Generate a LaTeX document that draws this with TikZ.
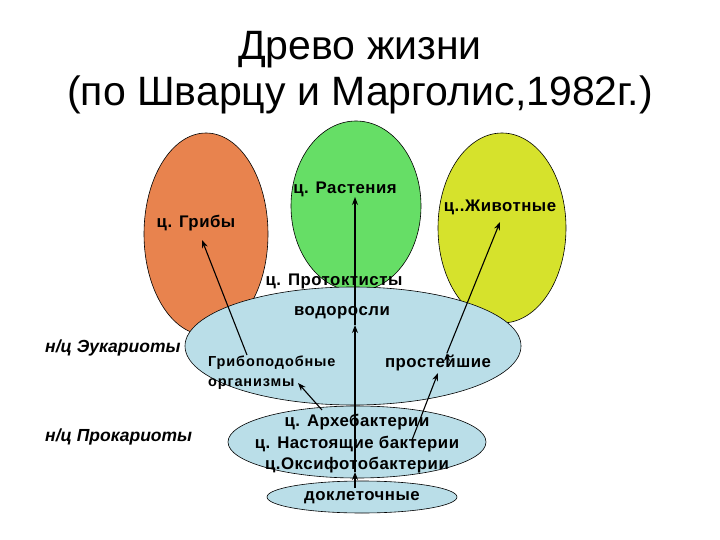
\documentclass[tikz,border=0pt]{standalone}
\usepackage{fontspec}
\setmainfont{Liberation Sans}
\usepackage{tikz}
\usetikzlibrary{arrows.meta}
\usetikzlibrary{positioning,shapes.geometric,calc}
\definecolor{orange1}{RGB}{232, 131, 78}
\definecolor{green1}{RGB}{102, 222, 102}
\definecolor{yellow1}{RGB}{214, 226, 44}
\definecolor{blue1}{RGB}{186, 222, 232}
\tikzstyle{kingdom} = [ellipse,draw=black,line width=0.6pt,inner sep=0pt]
\tikzstyle{label_big} = [font=\fontsize{16.8}{21.5}\selectfont\bfseries\addfontfeatures{LetterSpace=3},inner sep=0pt]
\tikzstyle{label_small} = [font=\fontsize{14.5}{20}\selectfont\bfseries\addfontfeatures{LetterSpace=6},inner sep=0pt]
\tikzstyle{label_rank} = [font=\fontsize{17.5}{20}\selectfont\bfseries\itshape,inner sep=0pt]
\tikzstyle{arrow_tree} = [-{Stealth[length=8pt,width=6pt]}, draw=black, line width=1.1pt]

\begin{document}
\begin{tikzpicture}[x=1pt,y=-1pt]
    \useasboundingbox (0,0) rectangle (720,540);

      % title
      \node[font=\fontsize{41}{46}\selectfont,align=center,inner sep=0pt] (title) at (360,73)
        {Древо жизни\\(по Шварцу и Марголис,1982г.)};

      % kingdoms
      \node[kingdom,fill=orange1,minimum width=124pt,minimum height=202pt] (fungi)   at (206,234) {};
      \node[kingdom,fill=green1, minimum width=130pt,minimum height=170pt] (plants)  at (356,206) {};
      \node[kingdom,fill=yellow1,minimum width=128pt,minimum height=190pt] (animals) at (502,228) {};
      \node[kingdom,fill=blue1,  minimum width=336pt,minimum height=118pt] (eukaryotes)  at (353,346) {};
      \node[kingdom,fill=blue1,  minimum width=258pt,minimum height=72pt]  (prokaryotes) at (357,442) {};
      \node[kingdom,fill=blue1,  minimum width=190pt,minimum height=32pt]  (precell)     at (362,497) {};

      % labels
      \node[label_big] (fungi_lbl)   at (196,223) {ц. Грибы};
      \node[label_big] (plants_lbl)  at (345,189) {ц. Растения};
      \node[label_big] (animals_lbl) at (500,207) {ц..Животные};
      \node[label_big] (protists)    at (334,281) {ц. Протоктисты};
      \node[label_big] (algae)       at (342,313) {водоросли};
      \node[label_small,align=left,anchor=west] (fungoid) at (208,373) {Грибоподобные\\организмы};
      \node[label_big] (protozoa)    at (438,363) {простейшие};
      \node[label_big,align=center] (bacteria) at (357,444)
        {ц. Архебактерии\\ц. Настоящие бактерии\\ц.Оксифотобактерии};
      \node[label_big] (precell_lbl) at (362,498) {доклеточные};
      \node[label_rank,anchor=west] (euk_lbl) at (45,348) {н/ц Эукариоты};
      \node[label_rank,anchor=west] (pro_lbl) at (45,437) {н/ц Прокариоты};

      % arrow ends
      \coordinate (c_pre)  at (355,488);
      \coordinate (c_pro)  at (355,472);
      \coordinate (c_alg)  at (355,325);
      \coordinate (c_pla)  at (355,197);
      \coordinate (c_arch) at (322,410);
      \coordinate (c_org)  at (298,383);
      \coordinate (c_grb)  at (247,355);
      \coordinate (c_fun)  at (202,240);
      \coordinate (c_bac)  at (412,440);
      \coordinate (c_pz1)  at (438,373);
      \coordinate (c_pz2)  at (447,353);
      \coordinate (c_ani)  at (500,222);

      \path[arrow_tree]
        \foreach \a/\b in {c_pre/c_pro,c_pro/c_alg,c_alg/c_pla,c_arch/c_org,c_grb/c_fun,c_bac/c_pz1,c_pz2/c_ani} {
          (\a) edge (\b)
        } ;
    \end{tikzpicture}
\end{document}
